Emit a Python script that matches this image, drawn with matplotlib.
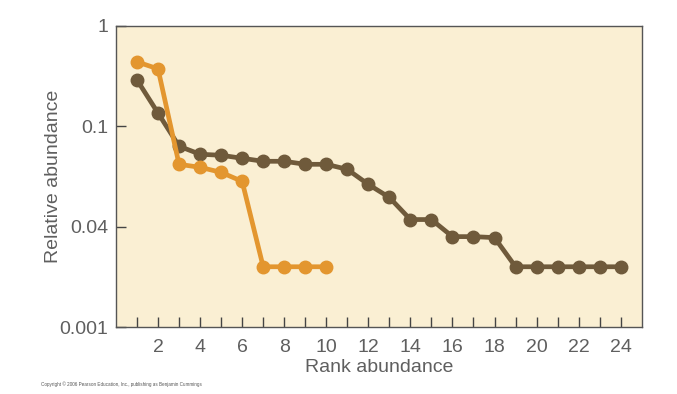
import matplotlib
matplotlib.use("Agg")
import matplotlib.pyplot as plt

# Y levels on the chart's (stepped) abundance axis
y_tick_labels = ["0.001", "0.04", "0.1", "1"]
rank_brown = list(range(1, 25))
level_brown = [2.46, 2.13, 1.80, 1.72, 1.71, 1.68, 1.65, 1.65, 1.62, 1.62,
               1.57, 1.42, 1.29, 1.07, 1.07, 0.90, 0.90, 0.89,
               0.60, 0.60, 0.60, 0.60, 0.60, 0.60]
rank_orange = list(range(1, 11))
level_orange = [2.64, 2.57, 1.62, 1.59, 1.54, 1.45, 0.60, 0.60, 0.60, 0.60]
x_tick_labels = [str(v) for v in range(2, 25, 2)]

plt.rcParams['font.family'] = ['Liberation Sans', 'DejaVu Sans']

fig = plt.figure(figsize=(6.77, 3.94), dpi=100)
ax = fig.add_axes([0.1713, 0.170, 0.7766, 0.7648])
ax.set_facecolor('#FAEFD3')

brown = '#6F5A3B'
orange = '#E3962F'
ax.plot(rank_brown, level_brown, color=brown, lw=3.4, marker='o', ms=9,
        solid_joinstyle='round', zorder=3)
ax.plot(rank_orange, level_orange, color=orange, lw=3.4, marker='o', ms=9,
        solid_joinstyle='round', zorder=4)

ax.set_xlim(0, 25)
ax.set_ylim(0, 3)
ax.set_xticks(range(1, 25))
ax.set_xticklabels(['' if v % 2 else str(v) for v in range(1, 25)])
ax.set_yticks(range(len(y_tick_labels)))
ax.set_yticklabels(y_tick_labels)
ax.tick_params(axis='both', direction='in', length=7, width=1, color='#444444',
               labelsize=14, labelcolor='#5f5f5f')
ax.tick_params(axis='x', pad=8.5)
ax.tick_params(axis='y', pad=5.5)
for s in ax.spines.values():
    s.set_color('#555555')
    s.set_linewidth(1)

ax.set_xlabel('Rank abundance', fontsize=14, color='#5f5f5f')
ax.set_ylabel('Relative abundance', fontsize=14, color='#5f5f5f')
ax.xaxis.set_label_coords(0.5, -0.133)
ax.yaxis.set_label_coords(-0.118, 0.5)
ax.xaxis.label.set_va('center')
ax.yaxis.label.set_va('center')

fig.text(0.061, 0.02, 'Copyright \u00a9 2006 Pearson Education, Inc., publishing as Benjamin Cummings',
         fontsize=3.3, color='#555555')

fig.savefig('out.png', dpi=100)
